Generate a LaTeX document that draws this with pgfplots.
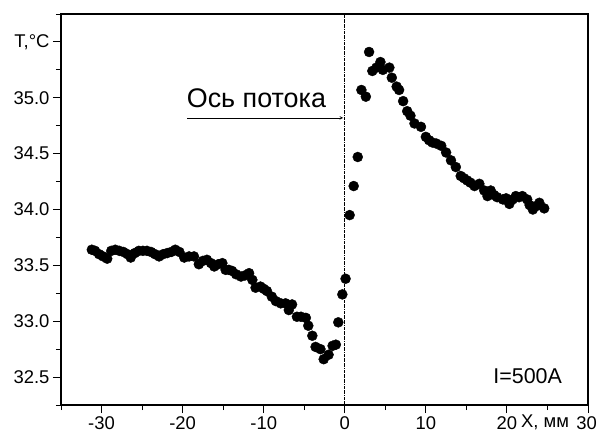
\documentclass[border=0pt]{standalone}
\usepackage{pgfplots}
\pgfplotsset{compat=1.18}
\usepackage{fontspec}
\setmainfont{Liberation Sans}
\begin{document}
\begin{tikzpicture}
\begin{axis}[
  name=ax,
  scale only axis,
  width=527bp, height=391bp,
  xmin=-35, xmax=30, ymin=32.25, ymax=35.75,
  xtick={-30,-20,-10,0,10,20,30},
  xticklabels={-30,-20,-10,0,10,20,{30\kern3bp}},
  minor xtick={-35,-25,-15,-5,5,15,25},
  ytick={32.5,33,33.5,34,34.5,35,35.5},
  minor ytick={32.25,32.75,33.25,33.75,34.25,34.75,35.25,35.75},
  yticklabels={32.5,33.0,33.5,34.0,34.5,35.0,{T,°C}},
  xtick pos=bottom, ytick pos=left,
  tick align=outside,
  major tick length=8bp, minor tick length=5bp,
  axis line style={line width=1.3pt},
  every tick/.style={line width=1pt, black},
  tick label style={font=\fontsize{18.5}{18.5}\selectfont},
  /pgf/number format/assume math mode=true,
  clip=false,
]
\addplot[only marks, mark=*, mark size=5bp, black] coordinates {
(-31.2,33.64) (-30.8,33.63) (-30.3,33.60) (-29.8,33.58) (-29.3,33.56)
(-28.8,33.63) (-28.3,33.64) (-27.8,33.63) (-27.3,33.62) (-26.8,33.60)
(-26.4,33.57) (-25.9,33.61) (-25.4,33.63) (-24.9,33.63) (-24.4,33.63)
(-23.9,33.62) (-23.4,33.60) (-22.9,33.58) (-22.4,33.60) (-21.9,33.61)
(-21.4,33.62) (-20.9,33.64) (-20.4,33.62) (-19.8,33.57) (-19.2,33.58)
(-18.6,33.58) (-18.0,33.51) (-17.5,33.54) (-17.0,33.55) (-16.5,33.52)
(-16.1,33.49) (-15.6,33.51) (-15.1,33.52) (-14.7,33.46) (-14.3,33.46)
(-13.9,33.45) (-13.4,33.42) (-12.8,33.40) (-12.3,33.41) (-11.8,33.43)
(-11.4,33.37) (-11.0,33.30) (-10.4,33.31) (-10.0,33.29) (-9.6,33.27)
(-9.0,33.22) (-8.5,33.18) (-7.9,33.16) (-7.3,33.16) (-6.9,33.10)
(-6.5,33.15) (-5.9,33.04) (-5.4,33.04) (-4.8,33.03) (-4.5,32.96)
(-4.0,32.87) (-3.6,32.77) (-3.0,32.75) (-2.6,32.66) (-2.0,32.70)
(-1.5,32.78) (-1.1,32.79) (-0.8,32.99) (-0.3,33.24) (0.1,33.38)
(0.6,33.95) (1.1,34.21) (1.6,34.47) (2.05,35.07) (2.6,35.01)
(3.0,35.41) (3.4,35.24) (3.9,35.27) (4.4,35.32) (4.7,35.25)
(5.5,35.27) (5.8,35.18) (6.4,35.10) (6.7,35.07) (7.2,34.97)
(7.7,34.88) (8.1,34.84) (8.6,34.77) (9.4,34.74) (10.0,34.65)
(10.4,34.62) (10.8,34.60) (11.3,34.59) (11.9,34.57) (12.5,34.51)
(13.1,34.44) (13.7,34.38) (14.3,34.30) (14.7,34.28) (15.1,34.26)
(15.5,34.24) (16.0,34.21) (16.6,34.23) (17.2,34.17) (17.6,34.12)
(18.0,34.17) (18.4,34.13) (18.8,34.11) (19.5,34.09) (19.9,34.10)
(20.3,34.05) (20.7,34.09) (21.1,34.12) (21.5,34.11) (21.9,34.12)
(22.5,34.09) (22.8,34.04) (23.2,34.00) (23.6,34.03) (24.0,34.06)
(24.6,34.01)
};
\draw[densely dashdotted, line width=0.6pt] (axis cs:0,32.25) -- (axis cs:0,35.75);
\draw[-stealth, line width=0.6pt] (axis cs:-19.4,34.82) -- (axis cs:-0.2,34.82);
\node[anchor=base west, inner sep=0pt, font=\fontsize{27}{27}\selectfont] at (axis cs:-19.5,34.91) {Ось потока};
\node[anchor=base east, inner sep=0pt, font=\fontsize{21.5}{21.5}\selectfont] at (axis cs:26.8,32.44) {I=500A};
\node[anchor=base, inner sep=0pt, font=\fontsize{18.5}{18.5}\selectfont] at (axis cs:24.7,32.25) [yshift=-22bp] {X, мм};
\end{axis}
\pgfresetboundingbox
\path ([xshift=-61bp,yshift=-32bp]ax.south west) rectangle ([xshift=10bp,yshift=14bp]ax.north east);
\end{tikzpicture}
\end{document}
